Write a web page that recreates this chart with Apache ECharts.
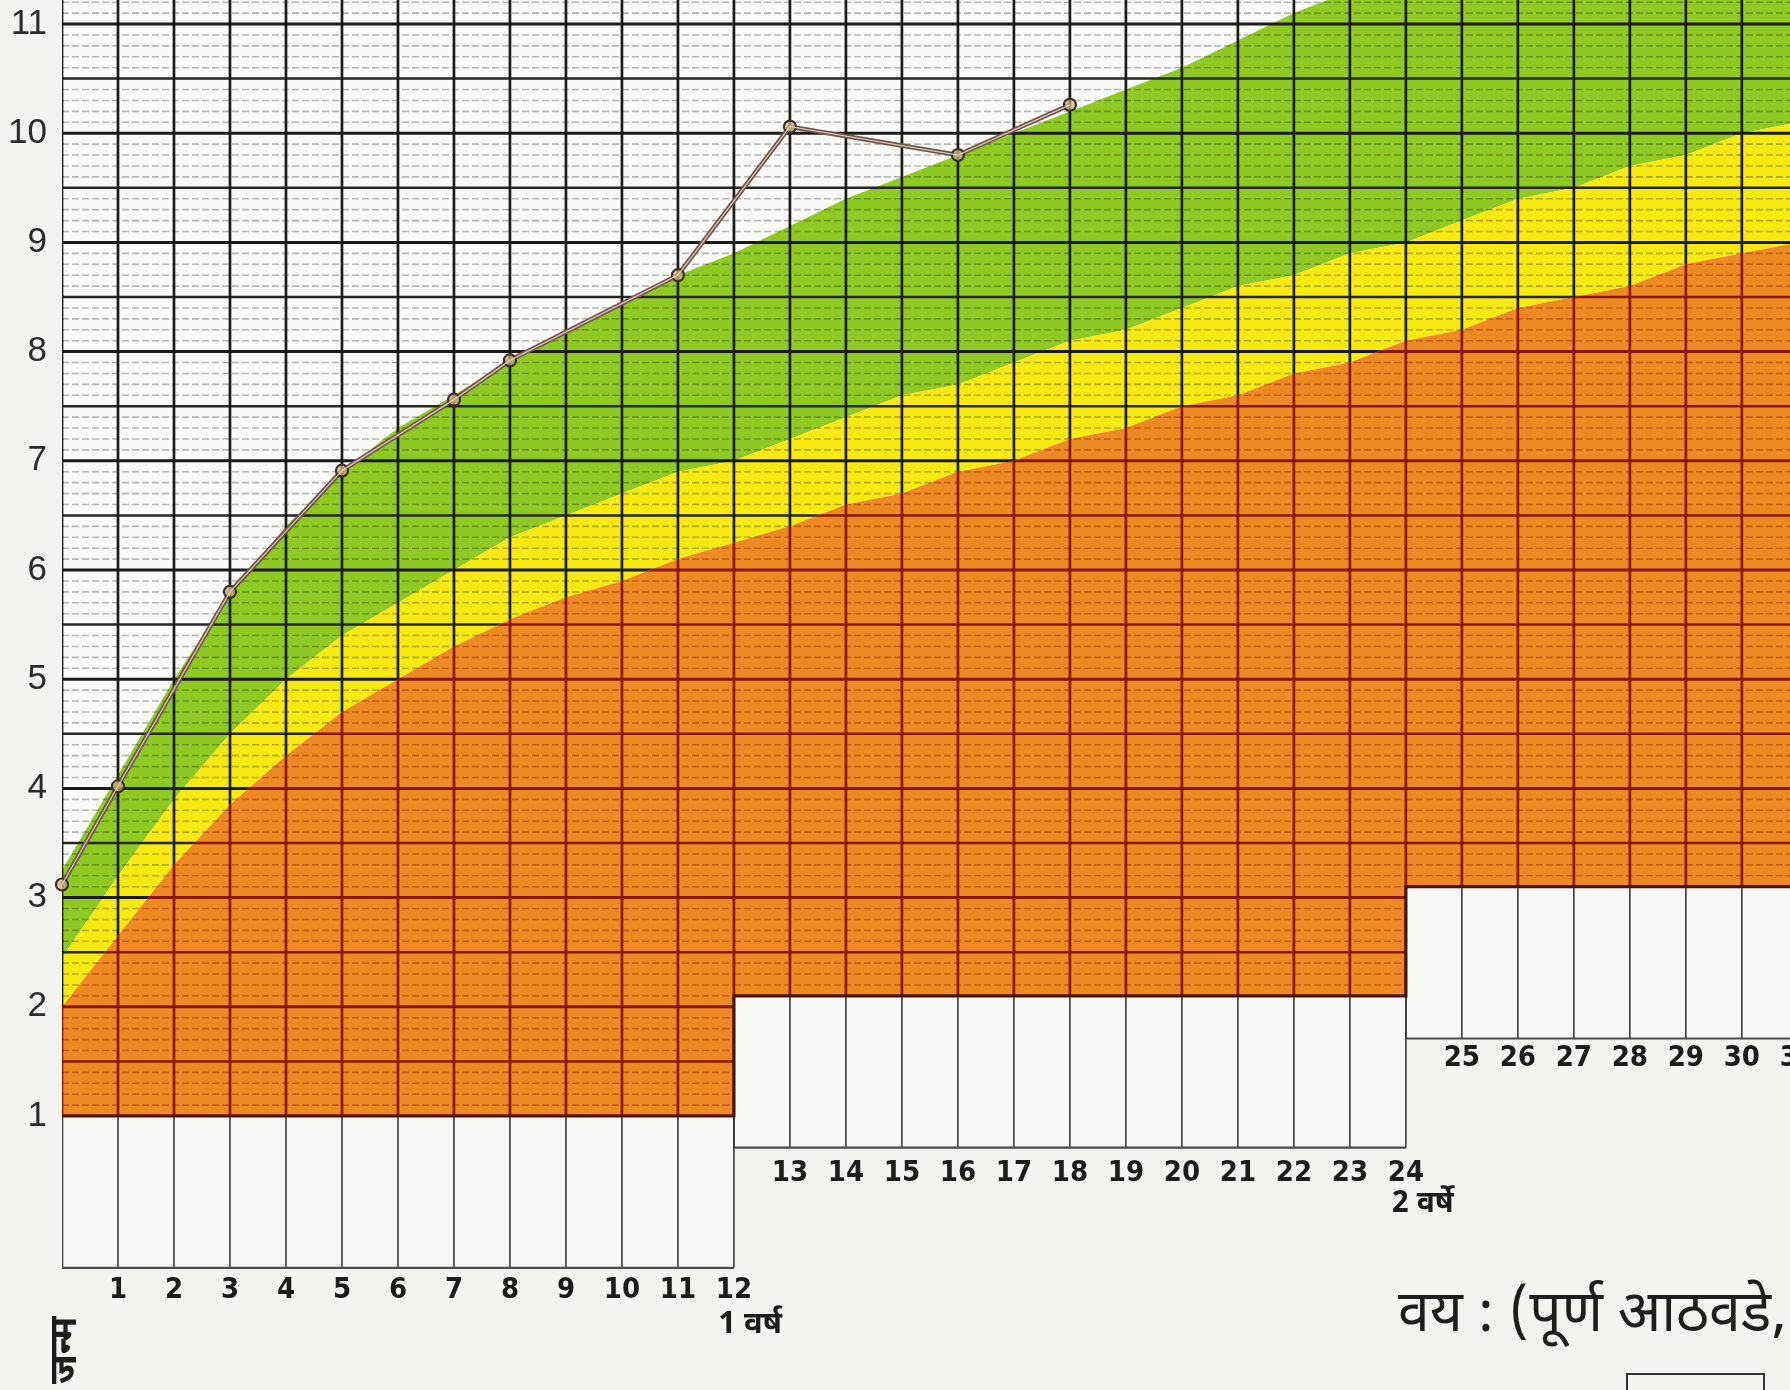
<!DOCTYPE html>
<html>
<head>
<meta charset="utf-8">
<script src="https://cdn.jsdelivr.net/npm/echarts@6/dist/echarts.min.js"></script>
<style>
  html, body { margin: 0; padding: 0; background: #f3f3f0; }
  #chart { width: 1790px; height: 1390px; }
</style>
</head>
<body>
<div id="chart"></div>
<script>
// age in months and the three reference curves (kg)
const months = [0, 1, 2, 3, 4, 5, 6, 7, 8, 9, 10, 11, 12, 13, 14, 15, 16, 17, 18, 19, 20, 21, 22, 23, 24, 25, 26, 27, 28, 29, 30, 31];
const upperCurve = [3.25, 4.12, 5.0, 5.78, 6.4, 6.9, 7.3, 7.6, 7.92, 8.2, 8.45, 8.7, 8.9, 9.15, 9.4, 9.6, 9.8, 10.0, 10.2, 10.4, 10.6, 10.85, 11.1, 11.3, 11.5, 11.7, 11.9, 12.1, 12.3, 12.5, 12.7, 12.9];
const middleCurve = [2.45, 3.2, 3.9, 4.5, 5.0, 5.4, 5.7, 6.0, 6.3, 6.5, 6.7, 6.9, 7.0, 7.2, 7.4, 7.6, 7.7, 7.9, 8.1, 8.2, 8.4, 8.6, 8.7, 8.9, 9.0, 9.2, 9.4, 9.5, 9.7, 9.8, 10.0, 10.1];
const lowerCurve = [2.0, 2.65, 3.3, 3.85, 4.3, 4.7, 5.0, 5.3, 5.55, 5.75, 5.9, 6.1, 6.25, 6.4, 6.6, 6.7, 6.9, 7.0, 7.2, 7.3, 7.5, 7.6, 7.8, 7.9, 8.1, 8.2, 8.4, 8.5, 8.6, 8.8, 8.9, 9.0];

// the child's plotted weights
const childMonths = [0, 1, 3, 5, 7, 8, 11, 13, 16, 18];
const childWeights = [3.12, 4.02, 5.8, 6.91, 7.56, 7.92, 8.7, 10.06, 9.8, 10.26];

// tick labels
const weightLabels = [1, 2, 3, 4, 5, 6, 7, 8, 9, 10, 11];
const monthLabelsYear1 = [1, 2, 3, 4, 5, 6, 7, 8, 9, 10, 11, 12];
const monthLabelsYear2 = [13, 14, 15, 16, 17, 18, 19, 20, 21, 22, 23, 24];
const monthLabelsYear3 = [25, 26, 27, 28, 29, 30, 31];

// stepped sections of the card: month range, top and bottom of the box (kg)
const sectionStart = [0, 12, 24];
const sectionEnd = [12, 24, 31];
const sectionTop = [1.0, 2.1, 3.1];
const sectionBottom = [-0.39, 0.71, 1.71];

const X_MAX = 30.86, Y_MIN = -1.509, Y_MAX = 11.22;
const ROW_KG = [-0.6, 0.47, 1.53];
const DEVA = '"Noto Sans Devanagari", "Lohit Devanagari", "FreeSans", "Noto Sans", sans-serif';

const LINES = {
  dark: {
    major: { stroke: '#1b1b1b', lineWidth: 3 },
    half: { stroke: '#262626', lineWidth: 2.5 },
    fine: { stroke: 'rgba(25,25,25,0.3)', lineWidth: 1.6, lineDash: [7, 3] },
    month: { stroke: '#1b1b1b', lineWidth: 2.7 }
  },
  red: {
    major: { stroke: '#8a1606', lineWidth: 3 },
    half: { stroke: '#8a1606', lineWidth: 2.5 },
    fine: { stroke: 'rgba(150,35,5,0.42)', lineWidth: 1.6, lineDash: [7, 3] },
    month: { stroke: '#8a1606', lineWidth: 2.7 }
  }
};

function seg(a, b, style) {
  return { type: 'line', shape: { x1: a[0], y1: a[1], x2: b[0], y2: b[1] }, style: Object.assign({}, style) };
}

function renderBody(params, api) {
  const p = (m, v) => api.coord([m, v]);
  const lastM = months[months.length - 1];
  const top = Y_MAX + 0.3;

  const stepPts = [];
  sectionStart.forEach((s, i) => {
    stepPts.push(p(s, sectionTop[i]));
    stepPts.push(p(sectionEnd[i], sectionTop[i]));
  });
  const curve = arr => months.map((m, i) => p(m, arr[i]));
  const low = curve(lowerCurve), mid = curve(middleCurve), up = curve(upperCurve);
  const orangePoly = stepPts.concat(low.slice().reverse());
  const yellowPoly = low.concat(mid.slice().reverse());
  const greenPoly = mid.concat(up.slice().reverse());
  const abovePoly = low.concat([p(lastM, top), p(0, top)]);
  const paperPoly = stepPts.concat([p(lastM, top), p(0, top)]);

  // grid segments above the step
  const segs = [];
  for (let k = 10; k <= Math.floor(Y_MAX * 10); k++) {
    const v = k / 10;
    const kind = k % 10 === 0 ? 'major' : (k % 5 === 0 ? 'half' : 'fine');
    sectionStart.forEach((s, i) => {
      if (v >= sectionTop[i] - 1e-6) segs.push({ a: p(s, v), b: p(sectionEnd[i], v), kind: kind });
    });
  }
  for (let m = 0; m <= lastM; m++) {
    let base = Infinity;
    sectionStart.forEach((s, i) => { if (m >= s && m <= sectionEnd[i]) base = Math.min(base, sectionTop[i]); });
    segs.push({ a: p(m, base), b: p(m, top), kind: 'month' });
  }

  const children = [];
  children.push({ type: 'polygon', shape: { points: paperPoly }, style: { fill: '#fafaf8' } });

  // white boxes under the step
  sectionStart.forEach((s, i) => {
    const a = p(s, sectionTop[i]), b = p(sectionEnd[i], sectionBottom[i]);
    children.push({ type: 'rect', shape: { x: a[0], y: a[1], width: b[0] - a[0], height: b[1] - a[1] }, style: { fill: '#f8f8f6' } });
    for (let m = s; m <= sectionEnd[i]; m++) {
      children.push(seg(p(m, sectionBottom[i]), p(m, sectionTop[i]), { stroke: '#3a3a3a', lineWidth: m === 0 ? 2.6 : 1.6 }));
    }
    children.push(seg(p(s, sectionBottom[i]), p(sectionEnd[i], sectionBottom[i]), { stroke: '#4a4a4a', lineWidth: 2.2 }));
  });
  for (let i = 1; i < sectionStart.length; i++) {
    children.push(seg(p(sectionStart[i], sectionBottom[i]), p(sectionStart[i], sectionTop[i - 1]), { stroke: '#3a3a3a', lineWidth: 1.8 }));
  }

  children.push({ type: 'polygon', shape: { points: greenPoly }, style: { fill: '#8fca22' } });
  children.push({ type: 'polygon', shape: { points: yellowPoly }, style: { fill: '#f6ea12' } });
  children.push({ type: 'polygon', shape: { points: orangePoly }, style: { fill: '#ee8a24' } });

  children.push({
    type: 'group',
    clipPath: { type: 'polygon', shape: { points: abovePoly } },
    children: segs.map(sg => seg(sg.a, sg.b, LINES.dark[sg.kind]))
  });
  children.push({
    type: 'group',
    clipPath: { type: 'polygon', shape: { points: orangePoly } },
    children: segs.map(sg => seg(sg.a, sg.b, LINES.red[sg.kind]))
  });

  children.push({ type: 'polyline', shape: { points: stepPts }, style: { stroke: '#4a1406', lineWidth: 3.2, fill: null } });

  // ticks to the left of the weight axis
  for (let k = 10; k <= Math.floor(Y_MAX * 10); k++) {
    const a = p(0, k / 10);
    const len = k % 10 === 0 ? 20 : (k % 5 === 0 ? 14 : 8);
    children.push(seg([a[0] - len, a[1]], a, { stroke: '#2a2a2a', lineWidth: k % 5 === 0 ? 2.6 : 1.4 }));
  }
  return { type: 'group', children: children };
}

function renderLabels(params, api) {
  const p = (m, v) => api.coord([m, v]);
  const font = 'bold 29px "Liberation Sans Narrow", "DejaVu Sans Condensed", "Liberation Sans", sans-serif';
  const children = [];
  [monthLabelsYear1, monthLabelsYear2, monthLabelsYear3].forEach((row, r) => {
    row.forEach(m => {
      const c = p(m, ROW_KG[r]);
      children.push({ type: 'text', style: { text: String(m), x: c[0], y: c[1], fill: '#1c1c1c', font: font, align: 'center', verticalAlign: 'middle' } });
    });
  });
  const y1 = p(11.72, -0.93), y2 = p(23.75, 0.17);
  children.push({ type: 'text', style: { text: '1 वर्ष', x: y1[0], y: y1[1], fill: '#1c1c1c', font: 'bold 31px ' + DEVA, align: 'left', verticalAlign: 'middle' } });
  children.push({ type: 'text', style: { text: '2 वर्षे', x: y2[0], y: y2[1], fill: '#1c1c1c', font: 'bold 30px ' + DEVA, align: 'left', verticalAlign: 'middle' } });
  return { type: 'group', children: children };
}

const chart = echarts.init(document.getElementById('chart'));
chart.setOption({
  backgroundColor: '#f3f3f0',
  animation: false,
  grid: { left: 62, right: 0, top: 0, bottom: 0 },
  xAxis: {
    type: 'value', min: 0, max: X_MAX,
    axisLine: { show: false }, axisTick: { show: false }, axisLabel: { show: false }, splitLine: { show: false }
  },
  yAxis: {
    type: 'value', min: Y_MIN, max: Y_MAX,
    axisLine: { show: false }, axisTick: { show: false }, splitLine: { show: false },
    axisLabel: {
      customValues: weightLabels,
      margin: 15,
      fontSize: 35,
      color: '#2b2b2b',
      fontFamily: '"Liberation Sans", Arial, sans-serif'
    }
  },
  graphic: [
    { type: 'text', left: 1398, top: 1292, style: { text: 'वय : (पूर्ण आठवडे,', fill: '#1e1e1e', font: 'normal 57px ' + DEVA } },
    { type: 'rect', shape: { x: 1627, y: 1374, width: 137, height: 40 }, style: { fill: 'none', stroke: '#333', lineWidth: 2 } },
    { type: 'text', x: 50, y: 1384, rotation: Math.PI / 2, style: { text: 'जन्म', fill: '#1e1e1e', font: 'bold 38px ' + DEVA } }
  ],
  series: [
    { type: 'custom', clip: true, silent: true, data: [[0, 0]], renderItem: renderBody, z: 1 },
    { type: 'custom', clip: false, silent: true, data: [[0, 0]], renderItem: renderLabels, z: 2 },
    {
      type: 'line', z: 5,
      data: childMonths.map((m, i) => [m, childWeights[i]]),
      symbol: 'circle', symbolSize: 12,
      itemStyle: { color: 'rgba(205,185,130,0.7)', borderColor: '#3d2f28', borderWidth: 2.2 },
      lineStyle: { color: '#6d524b', width: 4.5 }
    },
    {
      type: 'line', z: 6, symbol: 'none',
      data: childMonths.map((m, i) => [m, childWeights[i]]),
      lineStyle: { color: 'rgba(235,220,195,0.85)', width: 1.3 }
    }
  ]
});
</script>
</body>
</html>
